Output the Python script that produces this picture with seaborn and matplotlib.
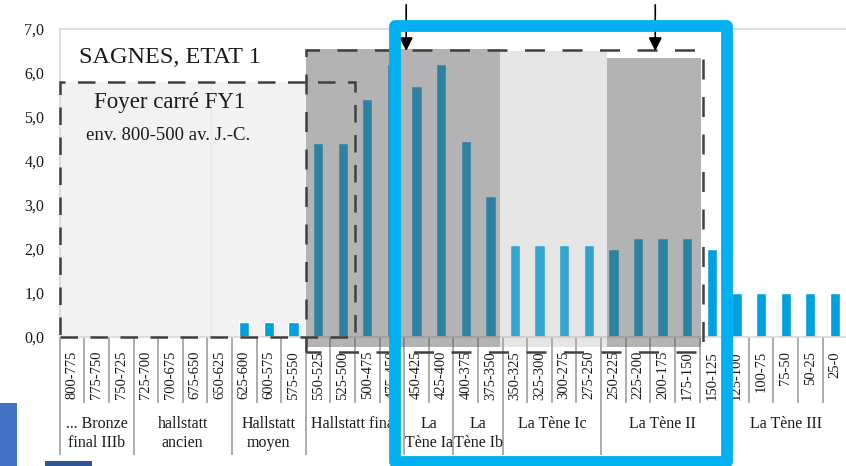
import numpy as np
import seaborn as sns
import matplotlib.pyplot as plt
import matplotlib.patches as patches

# data
periods = ["800-775", "775-750", "750-725", "725-700", "700-675", "675-650", "650-625",
           "625-600", "600-575", "575-550", "550-525", "525-500", "500-475", "475-450",
           "450-425", "425-400", "400-375", "375-350", "350-325", "325-300", "300-275",
           "275-250", "250-225", "225-200", "200-175", "175-150", "150-125", "125-100",
           "100-75", "75-50", "50-25", "25-0"]
values = [0, 0, 0, 0, 0, 0, 0,
          0.33, 0.33, 0.33, 4.4, 4.4, 5.4, 6.2,
          5.7, 6.2, 4.45, 3.2, 2.1, 2.1, 2.1,
          2.1, 2.0, 2.25, 2.25, 2.25, 2.0, 1.0,
          1.0, 1.0, 1.0, 1.0]
groups = ["... Bronze\nfinal IIIb", "hallstatt\nancien", "Hallstatt\nmoyen", "Hallstatt final",
          "La\nTène Ia", "La\nTène Ib", "La Tène Ic", "La Tène II", "La Tène III"]
group_sizes = [3, 4, 3, 4, 2, 2, 4, 5, 5]
yticks = [0, 1, 2, 3, 4, 5, 6, 7]
ytick_labels = ["0,0", "1,0", "2,0", "3,0", "4,0", "5,0", "6,0", "7,0"]

sns.set_style("white")
plt.rcParams['font.family'] = ['Liberation Serif', 'DejaVu Serif']

W, H = 846, 466
fig = plt.figure(figsize=(W / 100, H / 100), dpi=100)
ax = fig.add_axes([59.7 / W, 129 / H, 787.5 / W, 308 / H])

# background panel of the first frame (behind the bars)
ax.add_patch(patches.Rectangle((-0.5, 0), 10, 5.8, facecolor="#f2f2f2", edgecolor="none", zorder=0))
ax.plot([5.65, 5.65], [0, 5.8], color="#e8e8e8", lw=1, zorder=0.5)

sns.barplot(x=periods, y=values, color="#00a1de", saturation=1, width=0.42, ax=ax, zorder=2)

# translucent overlays of the second frame
ax.add_patch(patches.Rectangle((9.5, -0.22), 7.9, 6.77, facecolor="#606060", alpha=0.48,
                               edgecolor="none", zorder=3, clip_on=False))
ax.add_patch(patches.Rectangle((17.4, -0.22), 4.35, 6.72, facecolor="#ababab", alpha=0.3,
                               edgecolor="none", zorder=3, clip_on=False))
ax.add_patch(patches.Rectangle((21.75, -0.22), 3.8, 6.57, facecolor="#606060", alpha=0.48,
                               edgecolor="none", zorder=3, clip_on=False))

# dashed frames
ax.add_patch(patches.Rectangle((-0.49, 0), 12.0, 5.8, fill=False, edgecolor="#404040", lw=1.8,
                               linestyle=(0, (7, 5)), zorder=4, clip_on=False))
ax.add_patch(patches.Rectangle((9.5, -0.34), 16.15, 6.86, fill=False, edgecolor="#404040", lw=1.8,
                               linestyle=(2, (8, 7)), zorder=4, clip_on=False))

# arrows
for xa in [13.58, 23.7]:
    ax.annotate("", xy=(xa, 6.5), xytext=(xa, 7.55), annotation_clip=False,
                arrowprops=dict(arrowstyle="-|>", color="black", lw=1.2, mutation_scale=20,
                                shrinkA=0, shrinkB=0), zorder=6)

# titles inside the chart
ax.text(3.98, 6.36, "SAGNES, ETAT 1", ha="center", va="center", fontsize=17.5, color="#1a1a1a", zorder=5)
ax.text(3.98, 5.32, "Foyer carré FY1", ha="center", va="center", fontsize=16.5, color="#1a1a1a", zorder=5)
ax.text(3.9, 4.59, "env. 800-500 av. J.-C.", ha="center", va="center", fontsize=13.5, color="#1a1a1a", zorder=5)

# axes styling
ax.set_xlim(-0.5, 31.5)
ax.set_ylim(0, 7)
ax.set_yticks(yticks)
ax.set_yticklabels(ytick_labels, fontsize=11.5)
ax.tick_params(axis="y", length=5, width=1, color="#bfbfbf", pad=6, labelcolor="#1a1a1a")
ax.tick_params(axis="x", length=0, pad=10, labelsize=10.5, labelrotation=90, labelcolor="#1a1a1a")
ax.set_xlabel("")
ax.set_ylabel("")
for side in ["left", "top", "bottom"]:
    ax.spines[side].set_color("#d9d9d9")
    ax.spines[side].set_linewidth(1.2)
ax.spines["right"].set_visible(False)

# category separators and group labels below the axis
bounds = np.cumsum([0] + group_sizes) - 0.5
minor = [b for b in np.arange(0.5, 31, 1.0) if b not in bounds]
ax.vlines(minor, -1.5, 0, colors="#a6a6a6", lw=1.3, clip_on=False)
ax.vlines(bounds[:-1], -2.68, 0, colors="#a6a6a6", lw=1.3, clip_on=False)
for lab, b0, b1 in zip(groups, bounds[:-1], bounds[1:]):
    ax.text((b0 + b1) / 2, -1.8, lab, ha="center", va="top", fontsize=11.5,
            linespacing=1.25, color="#1a1a1a")

# highlight box and stray blue shapes of the screenshot
fig.add_artist(patches.Rectangle((395 / W, 4 / H), 332 / W, 436 / H, transform=fig.transFigure,
                                 fill=False, edgecolor="#00b0f0", lw=8.5, joinstyle="round", zorder=10))
fig.add_artist(patches.Rectangle((0, 0), 17 / W, 63 / H, transform=fig.transFigure,
                                 facecolor="#4472c4", edgecolor="none", zorder=10))
fig.add_artist(patches.Rectangle((45 / W, 0), 47 / W, 5 / H, transform=fig.transFigure,
                                 facecolor="#2f5597", edgecolor="none", zorder=10))

plt.savefig("out.png", dpi=100)
